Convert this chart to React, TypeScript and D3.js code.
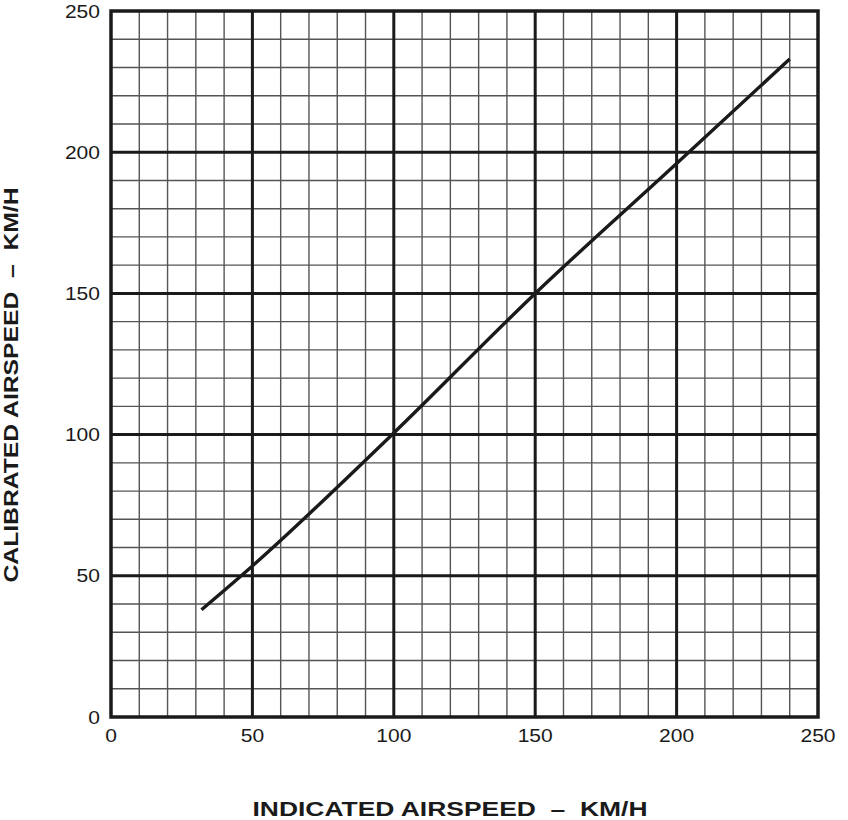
import React, { useEffect, useRef } from 'react';
import * as d3 from 'd3';

// calibration curve (indicated -> calibrated, km/h)
const indicated = [32, 50, 100, 150, 200, 240];
const calibrated = [38, 53.5, 100.6, 150, 196, 233];

const xTicks = [0, 50, 100, 150, 200, 250];
const yTicks = [0, 50, 100, 150, 200, 250];

const xTitle = 'INDICATED AIRSPEED  \u2013  KM/H';
const yTitle = 'CALIBRATED AIRSPEED  \u2013  KM/H';

const App: React.FC = () => {
  const svgRef = useRef<SVGSVGElement>(null);

  useEffect(() => {
    if (!svgRef.current) return;
    const svg = d3.select(svgRef.current);
    svg.selectAll('*').remove();

    const left = 111, right = 818, top = 11, bottom = 717;
    const font = '"Liberation Sans", Arial, sans-serif';
    const ink = '#1a1a1a';

    const x = d3.scaleLinear().domain([0, 250]).range([left, right]);
    const y = d3.scaleLinear().domain([0, 250]).range([bottom, top]);

    svg.append('rect')
      .attr('width', 848).attr('height', 820).attr('fill', '#fff');

    const minor = d3.range(10, 250, 10).filter(v => v % 50 !== 0);
    const major = d3.range(50, 250, 50);

    const grid = svg.append('g');
    grid.selectAll('.vmin').data(minor).join('line')
      .attr('x1', d => x(d)).attr('x2', d => x(d))
      .attr('y1', top).attr('y2', bottom)
      .attr('stroke', '#555').attr('stroke-width', 1.4);
    grid.selectAll('.hmin').data(minor).join('line')
      .attr('y1', d => y(d)).attr('y2', d => y(d))
      .attr('x1', left).attr('x2', right)
      .attr('stroke', '#555').attr('stroke-width', 1.4);
    grid.selectAll('.vmaj').data(major).join('line')
      .attr('x1', d => x(d)).attr('x2', d => x(d))
      .attr('y1', top).attr('y2', bottom)
      .attr('stroke', ink).attr('stroke-width', 3);
    grid.selectAll('.hmaj').data(major).join('line')
      .attr('y1', d => y(d)).attr('y2', d => y(d))
      .attr('x1', left).attr('x2', right)
      .attr('stroke', ink).attr('stroke-width', 3);

    svg.append('rect')
      .attr('x', left).attr('y', top)
      .attr('width', right - left).attr('height', bottom - top)
      .attr('fill', 'none').attr('stroke', ink).attr('stroke-width', 3.5);

    const pts = indicated.map((v, i) => [v, calibrated[i]] as [number, number]);
    const line = d3.line<[number, number]>()
      .x(d => x(d[0])).y(d => y(d[1]))
      .curve(d3.curveMonotoneX);
    svg.append('path')
      .attr('d', line(pts))
      .attr('fill', 'none').attr('stroke', ink).attr('stroke-width', 3.4);

    // tick labels (the original face is wide, so stretch a little)
    svg.selectAll('.xt').data(xTicks).join('text')
      .attr('x', d => x(d)).attr('y', 742)
      .attr('text-anchor', 'middle')
      .attr('font-family', font).attr('font-size', 18.5).attr('fill', ink)
      .attr('textLength', d => String(d).length * 11.7)
      .attr('lengthAdjust', 'spacingAndGlyphs')
      .text(d => d);
    svg.selectAll('.yt').data(yTicks).join('text')
      .attr('x', 100).attr('y', d => y(d) + 6.5)
      .attr('text-anchor', 'end')
      .attr('font-family', font).attr('font-size', 18.5).attr('fill', ink)
      .attr('textLength', d => String(d).length * 11.7)
      .attr('lengthAdjust', 'spacingAndGlyphs')
      .text(d => d);

    svg.append('text')
      .attr('x', 450).attr('y', 816)
      .attr('text-anchor', 'middle')
      .attr('font-family', font).attr('font-size', 20).attr('font-weight', 'bold')
      .attr('fill', ink)
      .attr('textLength', 395).attr('lengthAdjust', 'spacingAndGlyphs')
      .style('white-space', 'pre')
      .text(xTitle);
    svg.append('text')
      .attr('transform', `translate(18,385) rotate(-90)`)
      .attr('text-anchor', 'middle')
      .attr('font-family', font).attr('font-size', 20).attr('font-weight', 'bold')
      .attr('fill', ink)
      .attr('textLength', 395).attr('lengthAdjust', 'spacingAndGlyphs')
      .style('white-space', 'pre')
      .text(yTitle);
  }, []);

  return (
    <svg
      ref={svgRef}
      width={848}
      height={820}
      style={{ position: 'absolute', left: 0, top: 0 }}
    />
  );
};

export default App;
